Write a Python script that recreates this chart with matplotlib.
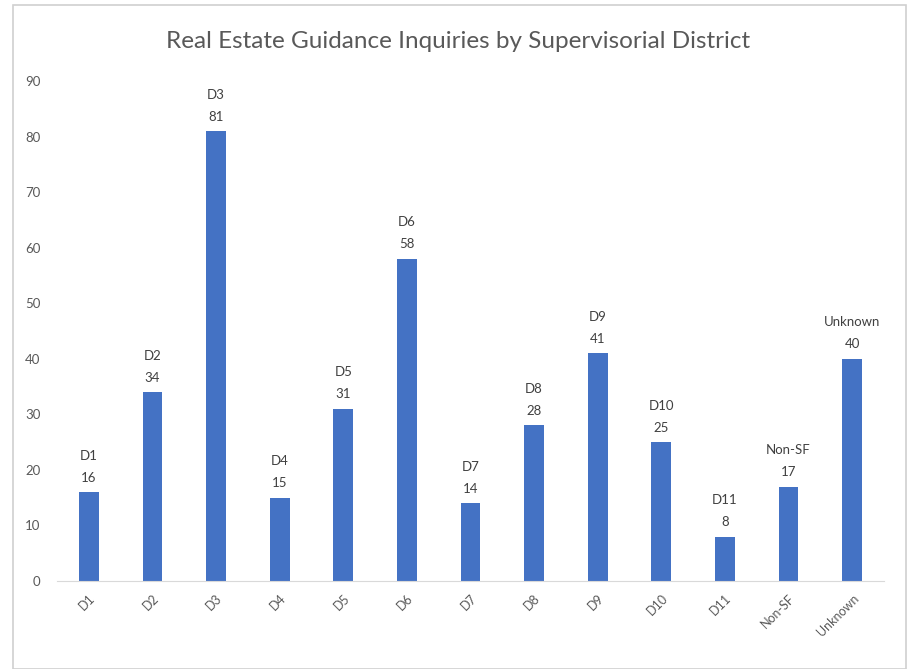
import matplotlib
matplotlib.use("Agg")
import matplotlib.pyplot as plt
from matplotlib.patches import Rectangle

categories = ["D1", "D2", "D3", "D4", "D5", "D6", "D7", "D8", "D9", "D10", "D11", "Non-SF", "Unknown"]
values = [16, 34, 81, 15, 31, 58, 14, 28, 41, 25, 8, 17, 40]
yticks = [0, 10, 20, 30, 40, 50, 60, 70, 80, 90]

plt.rcParams['font.family'] = ['Lato', 'DejaVu Sans']

fig = plt.figure(figsize=(9.09, 6.69), dpi=100)
fig.patch.set_facecolor('white')
fig.add_artist(Rectangle((13/909, 0.0), 893/909, 664/669, transform=fig.transFigure,
                         fill=False, edgecolor='#d0d0d0', linewidth=1.2))

ax = fig.add_axes([57/909, 88/669, 827/909, 500/669])
x = list(range(len(categories)))
bars = ax.bar(x, values, width=0.31, color='#4472C4')
ax.set_xlim(-0.5, len(categories) - 0.5)
ax.set_ylim(0, 90)
ax.set_yticks(yticks)
ax.set_xticks(x)
ax.set_xticklabels(categories, rotation=45, ha='right', rotation_mode='anchor', color='#595959', fontsize=9)
ax.tick_params(axis='y', colors='#595959', labelsize=9.5, length=0, pad=12)
ax.tick_params(axis='x', length=0, pad=8)
for s in ['top', 'right', 'left']:
    ax.spines[s].set_visible(False)
ax.spines['bottom'].set_color('#d9d9d9')

for xi, c, v in zip(x, categories, values):
    ax.annotate(f"{c}\n{v}", (xi, v), xytext=(0, 6), textcoords='offset points',
                ha='center', va='bottom', fontsize=9.5, color='#404040', linespacing=2.0)

fig.text(458/909, 1 - 42/669, "Real Estate Guidance Inquiries by Supervisorial District",
         ha='center', va='center', fontsize=17.5, color='#595959')

fig.savefig("out.png", dpi=100)
